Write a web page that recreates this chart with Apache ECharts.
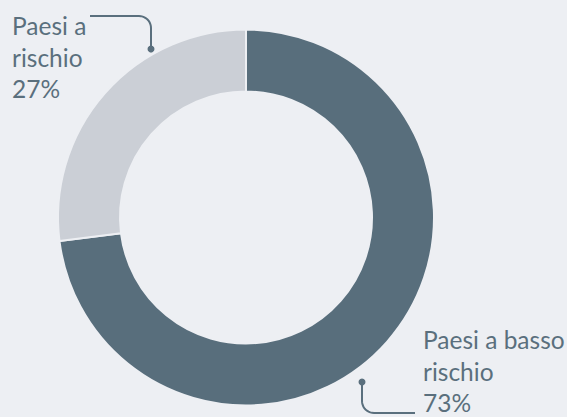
<!DOCTYPE html>
<html>
<head>
<meta charset="utf-8">
<script src="https://cdn.jsdelivr.net/npm/echarts@6/dist/echarts.min.js"></script>
<style>
html,body{margin:0;padding:0;background:#edeff3;}
#chart{width:567px;height:417px;}
</style>
</head>
<body>
<div id="chart"></div>
<script>
const categories = ['Paesi a basso rischio', 'Paesi a rischio'];
const values = [73, 27];
const labelTexts = ['Paesi a basso\nrischio', 'Paesi a\nrischio'];
const colors = ['#586e7c', '#cbcfd6'];

const BG = '#edeff3';
const TEXT = '#5a6f7d';
const CX = 246, CY = 217.5;

// connector: from dot, vertical, rounded corner, horizontal towards label
function connector(dx, dy, cornerY, endX, r) {
  const pts = [[dx, dy]];
  const dirY = cornerY > dy ? 1 : -1;
  const dirX = endX > dx ? 1 : -1;
  const cyc = cornerY - dirY * r;
  pts.push([dx, cyc]);
  const n = 10;
  for (let i = 1; i <= n; i++) {
    const t = (i / n) * Math.PI / 2;
    pts.push([dx + dirX * r * (1 - Math.cos(t)), cyc + dirY * r * Math.sin(t)]);
  }
  pts.push([endX, cornerY]);
  return pts;
}

const connectors = [
  {dot: [362, 382], cornerY: 413, endX: 415},
  {dot: [151, 49], cornerY: 16, endX: 90}
];

const graphics = [];
connectors.forEach(c => {
  graphics.push({
    type: 'polyline',
    shape: {points: connector(c.dot[0], c.dot[1], c.cornerY, c.endX, 12)},
    style: {fill: 'none', stroke: TEXT, lineWidth: 2}
  });
  graphics.push({
    type: 'circle',
    shape: {cx: c.dot[0], cy: c.dot[1], r: 3.5},
    style: {fill: TEXT}
  });
});

const chart = echarts.init(document.getElementById('chart'), null, {renderer: 'svg'});

const labelPos = [
  {x: 423, y: 324},
  {x: 12, y: 10}
];

chart.setOption({
  backgroundColor: BG,
  animation: false,
  color: colors,
  graphic: graphics,
  series: [{
    type: 'pie',
    center: [CX, CY],
    radius: [126, 188],
    startAngle: 90,
    clockwise: true,
    avoidLabelOverlap: false,
    itemStyle: {borderColor: BG, borderWidth: 2},
    label: {
      show: true,
      position: 'outside',
      color: TEXT,
      fontFamily: 'Lato',
      fontSize: 24.5,
      lineHeight: 31.5,
      formatter: p => labelTexts[p.dataIndex] + '\n' + p.percent + '%'
    },
    labelLine: {show: false},
    labelLayout: p => ({
      x: labelPos[p.dataIndex].x,
      y: labelPos[p.dataIndex].y,
      align: 'left',
      verticalAlign: 'top'
    }),
    emphasis: {disabled: true},
    data: categories.map((c, i) => ({name: c, value: values[i]}))
  }]
});
</script>
</body>
</html>
